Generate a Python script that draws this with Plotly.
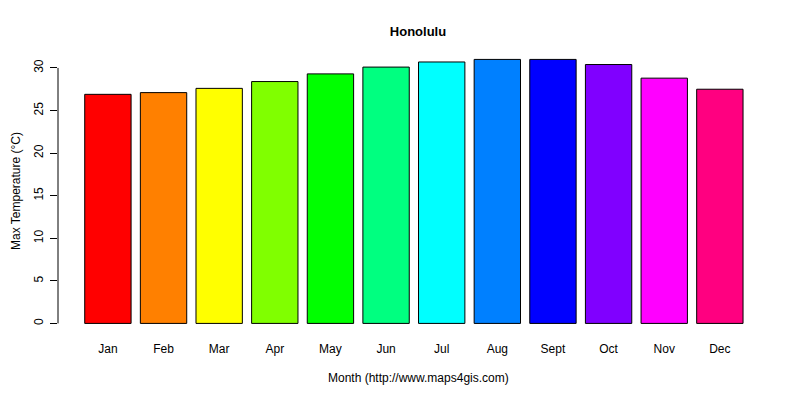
import plotly.graph_objects as go

# monthly mean max temperature, Honolulu
months = ["Jan", "Feb", "Mar", "Apr", "May", "Jun", "Jul", "Aug", "Sept", "Oct", "Nov", "Dec"]
max_temp = [26.9, 27.1, 27.6, 28.4, 29.3, 30.1, 30.7, 31.0, 31.0, 30.4, 28.8, 27.5]
# R rainbow(12)
bar_colors = ["#FF0000", "#FF8000", "#FFFF00", "#80FF00", "#00FF00", "#00FF80",
              "#00FFFF", "#0080FF", "#0000FF", "#8000FF", "#FF00FF", "#FF0080"]
y_ticks = [0, 5, 10, 15, 20, 25, 30]

font = "Liberation Sans, Arial, sans-serif"

# page body has an 8px margin, so the figure is drawn 8px in from the corner
W, H = 792, 392

fig = go.Figure(go.Bar(
    x=months, y=max_temp,
    marker=dict(color=bar_colors, line=dict(color="black", width=1)),
))

fig.update_layout(
    template="none",
    width=W, height=H,
    margin=dict(l=50, r=21, t=40, b=66, pad=0),
    plot_bgcolor="white", paper_bgcolor="white",
    bargap=1 - 1 / 1.2,
    showlegend=False,
    font=dict(family=font, size=12, color="black"),
    title=dict(text="<b>Honolulu</b>", x=410 / W, xanchor="center",
               y=1 - 23 / H, yanchor="middle", font=dict(size=13)),
)

fig.update_xaxes(
    range=[-0.897, 12.063], showline=False, ticks="", showgrid=False,
    zeroline=False, ticklabelstandoff=6, automargin=False,
)
fig.update_yaxes(
    range=[-1.244, 32.34], tickvals=y_ticks, ticks="outside", ticklen=7,
    tickwidth=1, tickcolor="black", showline=False, showgrid=False,
    zeroline=False, tickangle=-90, ticklabelstandoff=2, automargin=False,
)

# R-style axis line only spanning the tick range
fig.add_shape(type="line", xref="paper", yref="y", x0=0, x1=0,
              y0=y_ticks[0], y1=y_ticks[-1], line=dict(color="black", width=1))

fig.add_annotation(text="Month (http://www.maps4gis.com)", xref="paper", yref="paper",
                   x=0.5, y=-(378 - 334) / 286, yanchor="middle", showarrow=False,
                   font=dict(size=12))
fig.add_annotation(text="Max Temperature (°C)", xref="paper", yref="paper",
                   x=-(50 - 8) / 721, xanchor="center", y=0.5, textangle=-90,
                   showarrow=False, font=dict(size=12))

fig.write_html("out.html")
